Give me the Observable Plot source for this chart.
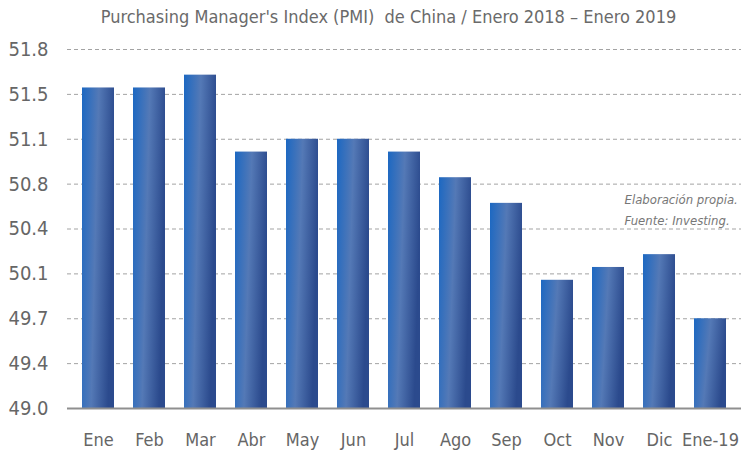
<!DOCTYPE html>
<html>
<head>
<meta charset="utf-8">
<script src="https://cdn.jsdelivr.net/npm/d3@7"></script>
<script src="https://cdn.jsdelivr.net/npm/@observablehq/plot@0.6"></script>
<style>
  html, body { margin: 0; padding: 0; background: #ffffff; }
  #wrap { width: 749px; font-family: "Liberation Sans Narrow", "DejaVu Sans Condensed", "Roboto", sans-serif; }
  #title { height: 33px; line-height: 33px; box-sizing: border-box; padding-left: 28px; text-align: center;
           font-size: 18px; color: #6a6a6a; white-space: nowrap; }
</style>
</head>
<body>
<div id="wrap">
  <div id="title">Purchasing Manager's Index (PMI)&nbsp; de China / Enero 2018 – Enero 2019</div>
  <div id="chart"></div>
</div>
<script>
const months = ["Ene", "Feb", "Mar", "Abr", "May", "Jun", "Jul", "Ago", "Sep", "Oct", "Nov", "Dic", "Ene-19"];
const pmi = [51.5, 51.5, 51.6, 51.0, 51.1, 51.1, 51.0, 50.8, 50.6, 50.0, 50.1, 50.2, 49.7];
const yTicks = [49.0, 49.35, 49.7, 50.05, 50.4, 50.75, 51.1, 51.45, 51.8];
const yTickLabels = ["49.0", "49.4", "49.7", "50.1", "50.4", "50.8", "51.1", "51.5", "51.8"];
const captionLines = ["Elaboración propia.", "Fuente: Investing."];

const data = months.map((m, i) => ({month: m, value: pmi[i]}));
const yBase = yTicks[0];

const plot = Plot.plot({
  width: 749,
  height: 417,
  marginTop: 16,
  marginBottom: 42,
  marginLeft: 67,
  marginRight: 8,
  style: {fontFamily: '"Liberation Sans Narrow", "DejaVu Sans Condensed", "Roboto", sans-serif', fontSize: "19px", color: "#666666", background: "#ffffff"},
  x: {domain: months, paddingInner: 0.38, paddingOuter: 0.19, label: null},
  y: {domain: [yTicks[0], yTicks[yTicks.length - 1]], label: null},
  marks: [
    Plot.ruleY(yTicks.slice(1), {stroke: "#a3a3a3", strokeWidth: 1, strokeDasharray: "4,3"}),
    Plot.barY(data, {x: "month", y1: yBase, y2: "value", fill: "url(#barGrad)"}),
    Plot.ruleY([yBase], {stroke: "#8f8f8f", strokeWidth: 2}),
    Plot.axisY({ticks: yTicks, tickFormat: d => yTickLabels[yTicks.indexOf(d)], tickSize: 0, tickPadding: 19, label: null, fontSize: 20}),
    Plot.axisX({tickSize: 0, tickPadding: 25, label: null, fontSize: 18}),
    Plot.text([captionLines.join("\n")], {text: d => d, frameAnchor: "top-right", textAnchor: "start", lineAnchor: "top",
      dx: -117, dy: 140, lineHeight: 1.6, fontStyle: "italic", fontSize: 13, fill: "#777777"})
  ]
});

// gradient definition for the bars
const ns = "http://www.w3.org/2000/svg";
const defs = document.createElementNS(ns, "defs");
defs.innerHTML = `
  <linearGradient id="barGrad" x1="0" y1="0" x2="1" y2="0.25">
    <stop offset="0%" stop-color="#1c68c2"/>
    <stop offset="50%" stop-color="#5479b6"/>
    <stop offset="100%" stop-color="#2b4a8d"/>
  </linearGradient>`;
plot.insertBefore(defs, plot.firstChild);

document.getElementById("chart").appendChild(plot);
</script>
</body>
</html>
